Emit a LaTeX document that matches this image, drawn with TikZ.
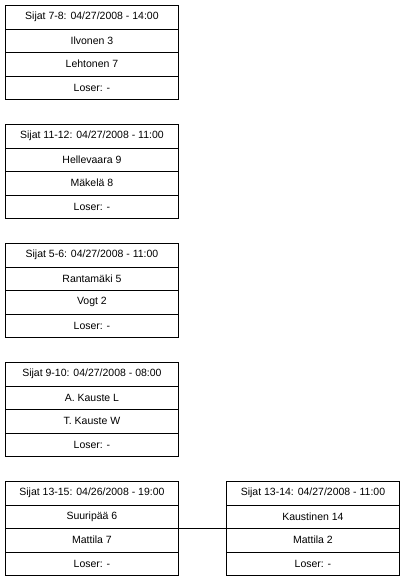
\documentclass[tikz,border=0pt]{standalone}
\usepackage{fontspec}
\setmainfont{Liberation Sans}
\begin{document}
\begin{tikzpicture}[x=1pt,y=-1pt,
  cell/.style={draw=black,line width=0.9pt,minimum width=173pt,minimum height=23.5pt,inner sep=0pt,anchor=north west,font=\fontsize{10.5}{12}\selectfont,text=black},
  link/.style={draw=black,line width=0.9pt}]
\useasboundingbox (0,0) rectangle (404,581);
% box 1
\node[cell] (a1) at (5,5) {Sijat 7-8: 04/27/2008 - 14:00};
\node[cell] (a2) at (5,28.5) {Ilvonen 3};
\node[cell] (a3) at (5,52) {Lehtonen 7};
\node[cell] (a4) at (5,75.5) {Loser: -};
% box 2
\node[cell] (b1) at (5,124) {Sijat 11-12: 04/27/2008 - 11:00};
\node[cell] (b2) at (5,147.5) {Hellevaara 9};
\node[cell] (b3) at (5,171) {Mäkelä 8};
\node[cell] (b4) at (5,194.5) {Loser: -};
% box 3
\node[cell] (c1) at (5,243) {Sijat 5-6: 04/27/2008 - 11:00};
\node[cell] (c2) at (5,266.5) {Rantamäki 5};
\node[cell] (c3) at (5,290) {Vogt 2};
\node[cell] (c4) at (5,313.5) {Loser: -};
% box 4
\node[cell] (d1) at (5,362) {Sijat 9-10: 04/27/2008 - 08:00};
\node[cell] (d2) at (5,385.5) {A. Kauste L};
\node[cell] (d3) at (5,409) {T. Kauste W};
\node[cell] (d4) at (5,432.5) {Loser: -};
% box 5
\node[cell] (e1) at (5,481) {Sijat 13-15: 04/26/2008 - 19:00};
\node[cell] (e2) at (5,504.5) {Suuripää 6};
\node[cell] (e3) at (5,528) {Mattila 7};
\node[cell] (e4) at (5,551.5) {Loser: -};
% box 6
\node[cell] (f1) at (226,481) {Sijat 13-14: 04/27/2008 - 11:00};
\node[cell] (f2) at (226,504.5) {Kaustinen 14};
\node[cell] (f3) at (226,528) {Mattila 2};
\node[cell] (f4) at (226,551.5) {Loser: -};
% connector
\draw[link] (e3.north east) -- (f3.north west);
\end{tikzpicture}
\end{document}
